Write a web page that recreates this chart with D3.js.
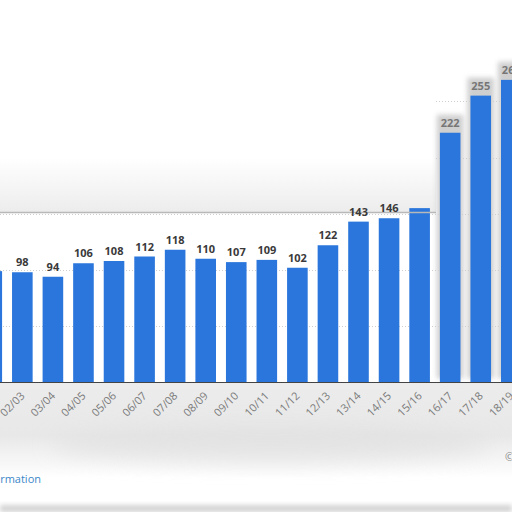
<!DOCTYPE html>
<html>
<head>
<meta charset="utf-8">
<script src="https://cdn.jsdelivr.net/npm/d3@7"></script>
<style>
  html, body { margin: 0; padding: 0; background: #fff; }
  svg { display: block; }
</style>
</head>
<body>
<svg id="chart" width="512" height="512"></svg>
<script>
const seasons = ["01/02", "02/03", "03/04", "04/05", "05/06", "06/07", "07/08", "08/09", "09/10",
  "10/11", "11/12", "12/13", "13/14", "14/15", "15/16", "16/17", "17/18", "18/19"];
const revenue = [99, 98, 94, 106, 108, 112, 118, 110, 107, 109, 102, 122, 143, 146, 155, 222, 255, 269];
const hiddenLabels = ["15/16"];
const gridTicks = [50, 100, 150, 200, 250];

const width = 512, height = 512;
const baseY = 382.5;

const svg = d3.select("#chart");
const defs = svg.append("defs");

defs.append("filter")
  .attr("id", "blur_small")
  .attr("x", "-50%").attr("y", "-50%").attr("width", "200%").attr("height", "200%")
  .append("feGaussianBlur").attr("stdDeviation", 2.5);

defs.append("filter")
  .attr("id", "blur_big")
  .attr("x", "-50%").attr("y", "-100%").attr("width", "200%").attr("height", "300%")
  .append("feGaussianBlur").attr("stdDeviation", 10);

const topFade = defs.append("linearGradient")
  .attr("id", "top_fade").attr("x1", 0).attr("x2", 0).attr("y1", 0).attr("y2", 1);
topFade.append("stop").attr("offset", "0%").attr("stop-color", "#ffffff");
topFade.append("stop").attr("offset", "100%").attr("stop-color", "#ececec");

const bottomFade = defs.append("linearGradient")
  .attr("id", "bottom_fade").attr("x1", 0).attr("x2", 0).attr("y1", 0).attr("y2", 1);
bottomFade.append("stop").attr("offset", "0%").attr("stop-color", "#ececec");
bottomFade.append("stop").attr("offset", "55%").attr("stop-color", "#e8e8e8");
bottomFade.append("stop").attr("offset", "100%").attr("stop-color", "#ffffff");

const x = d3.scaleBand()
  .domain(seasons)
  .range([-23.5, -23.5 + 30.56 * seasons.length])
  .paddingInner(0.326)
  .paddingOuter(0.163);

const y = d3.scaleLinear()
  .domain([0, 300])
  .range([baseY, baseY - 337.5]);

const chart = svg.append("g").attr("font-family", "'Open Sans', sans-serif");

// washed out backgrounds from the screenshot
const haze = chart.append("g").attr("class", "haze");
haze.append("rect")
  .attr("x", 0).attr("y", 158).attr("width", 436).attr("height", 55)
  .attr("fill", "url(#top_fade)");
haze.append("rect")
  .attr("x", 0).attr("y", 383).attr("width", 512).attr("height", 95)
  .attr("fill", "url(#bottom_fade)");
haze.append("ellipse")
  .attr("cx", 270).attr("cy", 445).attr("rx", 220).attr("ry", 18)
  .attr("fill", "#dedede").attr("opacity", 0.6)
  .attr("filter", "url(#blur_big)");

// grid
const grid = chart.append("g").attr("class", "grid");
grid.selectAll("line")
  .data(gridTicks)
  .join("line")
  .attr("x1", (d) => d > 150 ? 436 : 0).attr("x2", width)
  .attr("y1", (d) => Math.round(y(d)) + 0.5)
  .attr("y2", (d) => Math.round(y(d)) + 0.5)
  .attr("stroke", "#cfcfcf")
  .attr("stroke-dasharray", "1,2");

// halos around the last bars
chart.append("g")
  .selectAll("rect")
  .data(seasons.slice(-3))
  .join("rect")
  .attr("x", (d) => x(d) - 3)
  .attr("y", (d, i) => y(revenue[revenue.length - 3 + i]) - 18)
  .attr("width", x.bandwidth() + 6)
  .attr("height", (d, i) => baseY - y(revenue[revenue.length - 3 + i]) + 14)
  .attr("fill", "#cfcfcf")
  .attr("filter", "url(#blur_small)");

// bars
chart.append("g")
  .attr("class", "bars")
  .selectAll("rect")
  .data(seasons)
  .join("rect")
  .attr("x", (d) => x(d))
  .attr("y", (d, i) => y(revenue[i]))
  .attr("width", x.bandwidth())
  .attr("height", (d, i) => baseY - y(revenue[i]))
  .attr("fill", "#2a76dc");

// the grey line across the top haze
chart.append("line")
  .attr("x1", 0).attr("x2", 436)
  .attr("y1", 212.5).attr("y2", 212.5)
  .attr("stroke", "#b8b8b8")
  .attr("stroke-width", 1.5);

// baseline
chart.append("line")
  .attr("x1", 0).attr("x2", width)
  .attr("y1", baseY).attr("y2", baseY)
  .attr("stroke", "#444")
  .attr("stroke-width", 1);

// value labels
chart.append("g")
  .attr("class", "values")
  .selectAll("text")
  .data(seasons.filter((d) => !hiddenLabels.includes(d)))
  .join("text")
  .attr("x", (d) => x(d) + x.bandwidth() / 2)
  .attr("y", (d) => y(revenue[seasons.indexOf(d)]) - 6)
  .attr("text-anchor", "middle")
  .attr("font-size", 11)
  .attr("font-weight", "bold")
  .attr("fill", (d) => seasons.indexOf(d) >= 15 ? "#767676" : "#3a3a3a")
  .text((d) => revenue[seasons.indexOf(d)]);

// x axis labels
chart.append("g")
  .attr("class", "x-labels")
  .selectAll("text")
  .data(seasons)
  .join("text")
  .attr("transform", (d) => `translate(${x(d) + x.bandwidth() / 2 + 3},${baseY + 14}) rotate(-45)`)
  .attr("text-anchor", "end")
  .attr("font-size", 11)
  .attr("fill", "#7a7a7a")
  .text((d) => d);

// footer remnants
chart.append("text")
  .attr("x", -20).attr("y", 483)
  .attr("font-size", 11)
  .attr("fill", "#3b87c8")
  .text("Information");

chart.append("text")
  .attr("x", 505).attr("y", 461)
  .attr("font-size", 11)
  .attr("fill", "#888")
  .text("©");

chart.append("rect")
  .attr("x", 0).attr("y", 505).attr("width", width).attr("height", 7)
  .attr("fill", "#d2d2d2")
  .attr("filter", "url(#blur_small)");
</script>
</body>
</html>
